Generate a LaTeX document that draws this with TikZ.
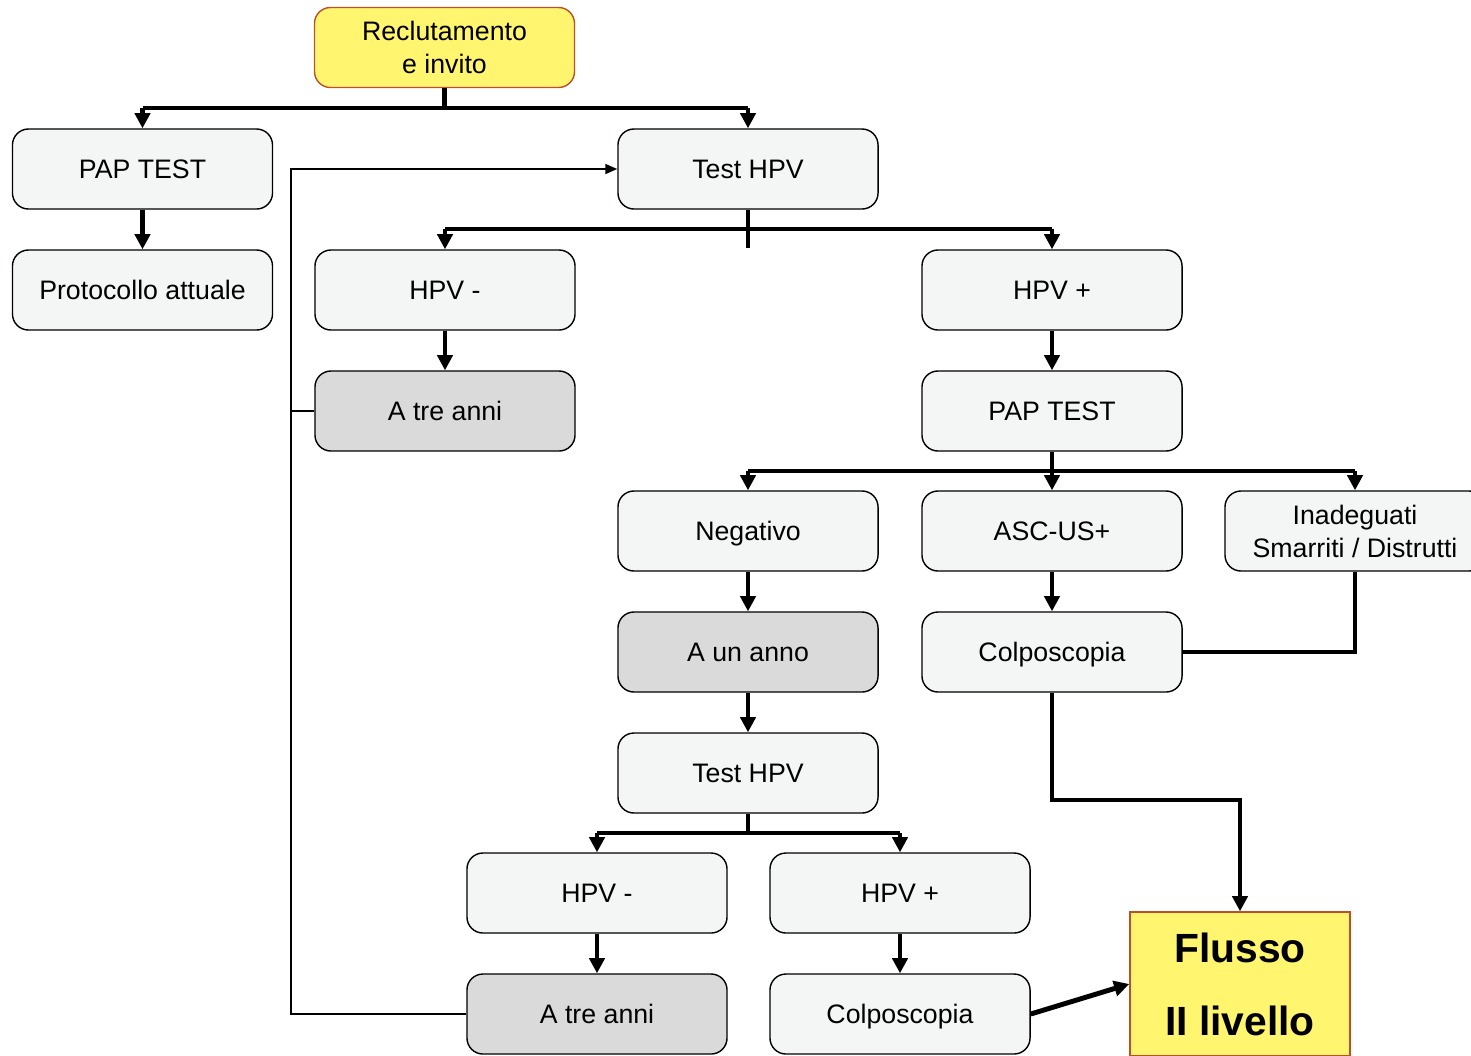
\documentclass[tikz,border=0pt]{standalone}
\usepackage{fontspec}
\setmainfont{Liberation Sans}
\usepackage{tikz}
\usetikzlibrary{calc, positioning, arrows.meta}

\definecolor{boxfill}{RGB}{244,246,246}
\definecolor{grayfill}{RGB}{218,218,218}
\definecolor{yellowfill}{RGB}{255,245,110}
\definecolor{orangeedge}{RGB}{190,80,40}

\begin{document}
\begin{tikzpicture}[x=0.025cm, y=-0.025cm,
        stepbox/.style={draw=black, line width=1pt, rounded corners=0.4cm, fill=boxfill,
            minimum width=6.5cm, minimum height=2cm, align=center, inner sep=2pt,
            font=\fontsize{19}{23.4}\selectfont},
        onebox/.style={stepbox, text height=15pt, text depth=1.3pt},
        waitbox/.style={onebox, fill=grayfill},
        startbox/.style={stepbox, fill=yellowfill, draw=orangeedge},
        endbox/.style={draw=orangeedge, line width=1pt, fill=yellowfill,
            minimum width=5.5cm, minimum height=3.6cm, align=center,
            font=\fontsize{29}{52}\selectfont\bfseries},
        flow/.style={line width=3.5pt, -{Triangle[length=0.38cm, width=0.38cm]}},
        bar/.style={line width=3.5pt},
        back/.style={line width=1.3pt}]
    \useasboundingbox (0,0) rectangle (1471,1055);

    % first level
    \node[startbox] (rec) at (444.5,47.5) {Reclutamento\\e invito};
    \node[onebox] (pap) at (142.5,169) {PAP TEST};
    \node[onebox] (test) at (748,169) {Test HPV};
    \node[onebox] (proto) at (142.5,290) {Protocollo attuale};
    \node[onebox] (neg) at (445,290) {HPV -};
    \node[onebox] (pos) at (1052,290) {HPV +};
    \node[waitbox] (tre) at (445,411) {A tre anni};
    \node[onebox] (paptwo) at (1052,411) {PAP TEST};

    % pap test results
    \node[onebox] (negativo) at (748,531) {Negativo};
    \node[onebox] (asc) at (1052,531) {ASC-US+};
    \node[stepbox] (inad) at (1355,531) {Inadeguati\\Smarriti / Distrutti};
    \node[waitbox] (anno) at (748,652) {A un anno};
    \node[onebox] (colpo) at (1052,652) {Colposcopia};

    % retest after one year
    \node[onebox] (testtwo) at (748,773) {Test HPV};
    \node[onebox] (negtwo) at (597,893) {HPV -};
    \node[onebox] (postwo) at (900,893) {HPV +};
    \node[waitbox] (tretwo) at (597,1014) {A tre anni};
    \node[onebox] (colpotwo) at (900,1014) {Colposcopia};
    \node[endbox] (flusso) at (1240,984) {Flusso\\II livello};

    % branches
    \draw[bar] (rec.south) -- (rec.south |- 0,108);
    \draw[bar] (pap.north |- 0,108) -- (test.north |- 0,108);
    \draw[flow] (pap.north |- 0,108) -- (pap.north);
    \draw[flow] (test.north |- 0,108) -- (test.north);
    \draw[flow] (pap) -- (proto);

    \draw[bar] (test.south) -- (test.south |- 0,248);
    \draw[bar] (neg.north |- 0,229) -- (pos.north |- 0,229);
    \draw[flow] (neg.north |- 0,229) -- (neg.north);
    \draw[flow] (pos.north |- 0,229) -- (pos.north);
    \draw[flow] (neg) -- (tre);
    \draw[flow] (pos) -- (paptwo);

    \draw[bar] (paptwo.south) -- (paptwo.south |- 0,471);
    \draw[bar] (negativo.north |- 0,471) -- (inad.north |- 0,471);
    \draw[flow] (negativo.north |- 0,471) -- (negativo.north);
    \draw[flow] (asc.north |- 0,471) -- (asc.north);
    \draw[flow] (inad.north |- 0,471) -- (inad.north);
    \draw[flow] (negativo) -- (anno);
    \draw[flow] (asc) -- (colpo);
    \draw[bar] (inad.south) |- (colpo.east);
    \draw[flow] (anno) -- (testtwo);

    \draw[bar] (testtwo.south) -- (testtwo.south |- 0,833);
    \draw[bar] (negtwo.north |- 0,833) -- (postwo.north |- 0,833);
    \draw[flow] (negtwo.north |- 0,833) -- (negtwo.north);
    \draw[flow] (postwo.north |- 0,833) -- (postwo.north);
    \draw[flow] (negtwo) -- (tretwo);
    \draw[flow] (postwo) -- (colpotwo);

    % to second level
    \draw[flow] (colpo.south) -- (colpo.south |- 0,800) -| (flusso.north);
    \draw[flow] (colpotwo.east) -- ($(flusso.west)+(0,0)$);

    % back to test after three years
    \draw[back, -{Triangle[length=0.3cm, width=0.25cm]}] (tre.west) -- (291,411) -- (291,169) -- (test.west);
    \draw[back] (tretwo.west) -- (291,1014) -- (291,411);
\end{tikzpicture}
\end{document}
